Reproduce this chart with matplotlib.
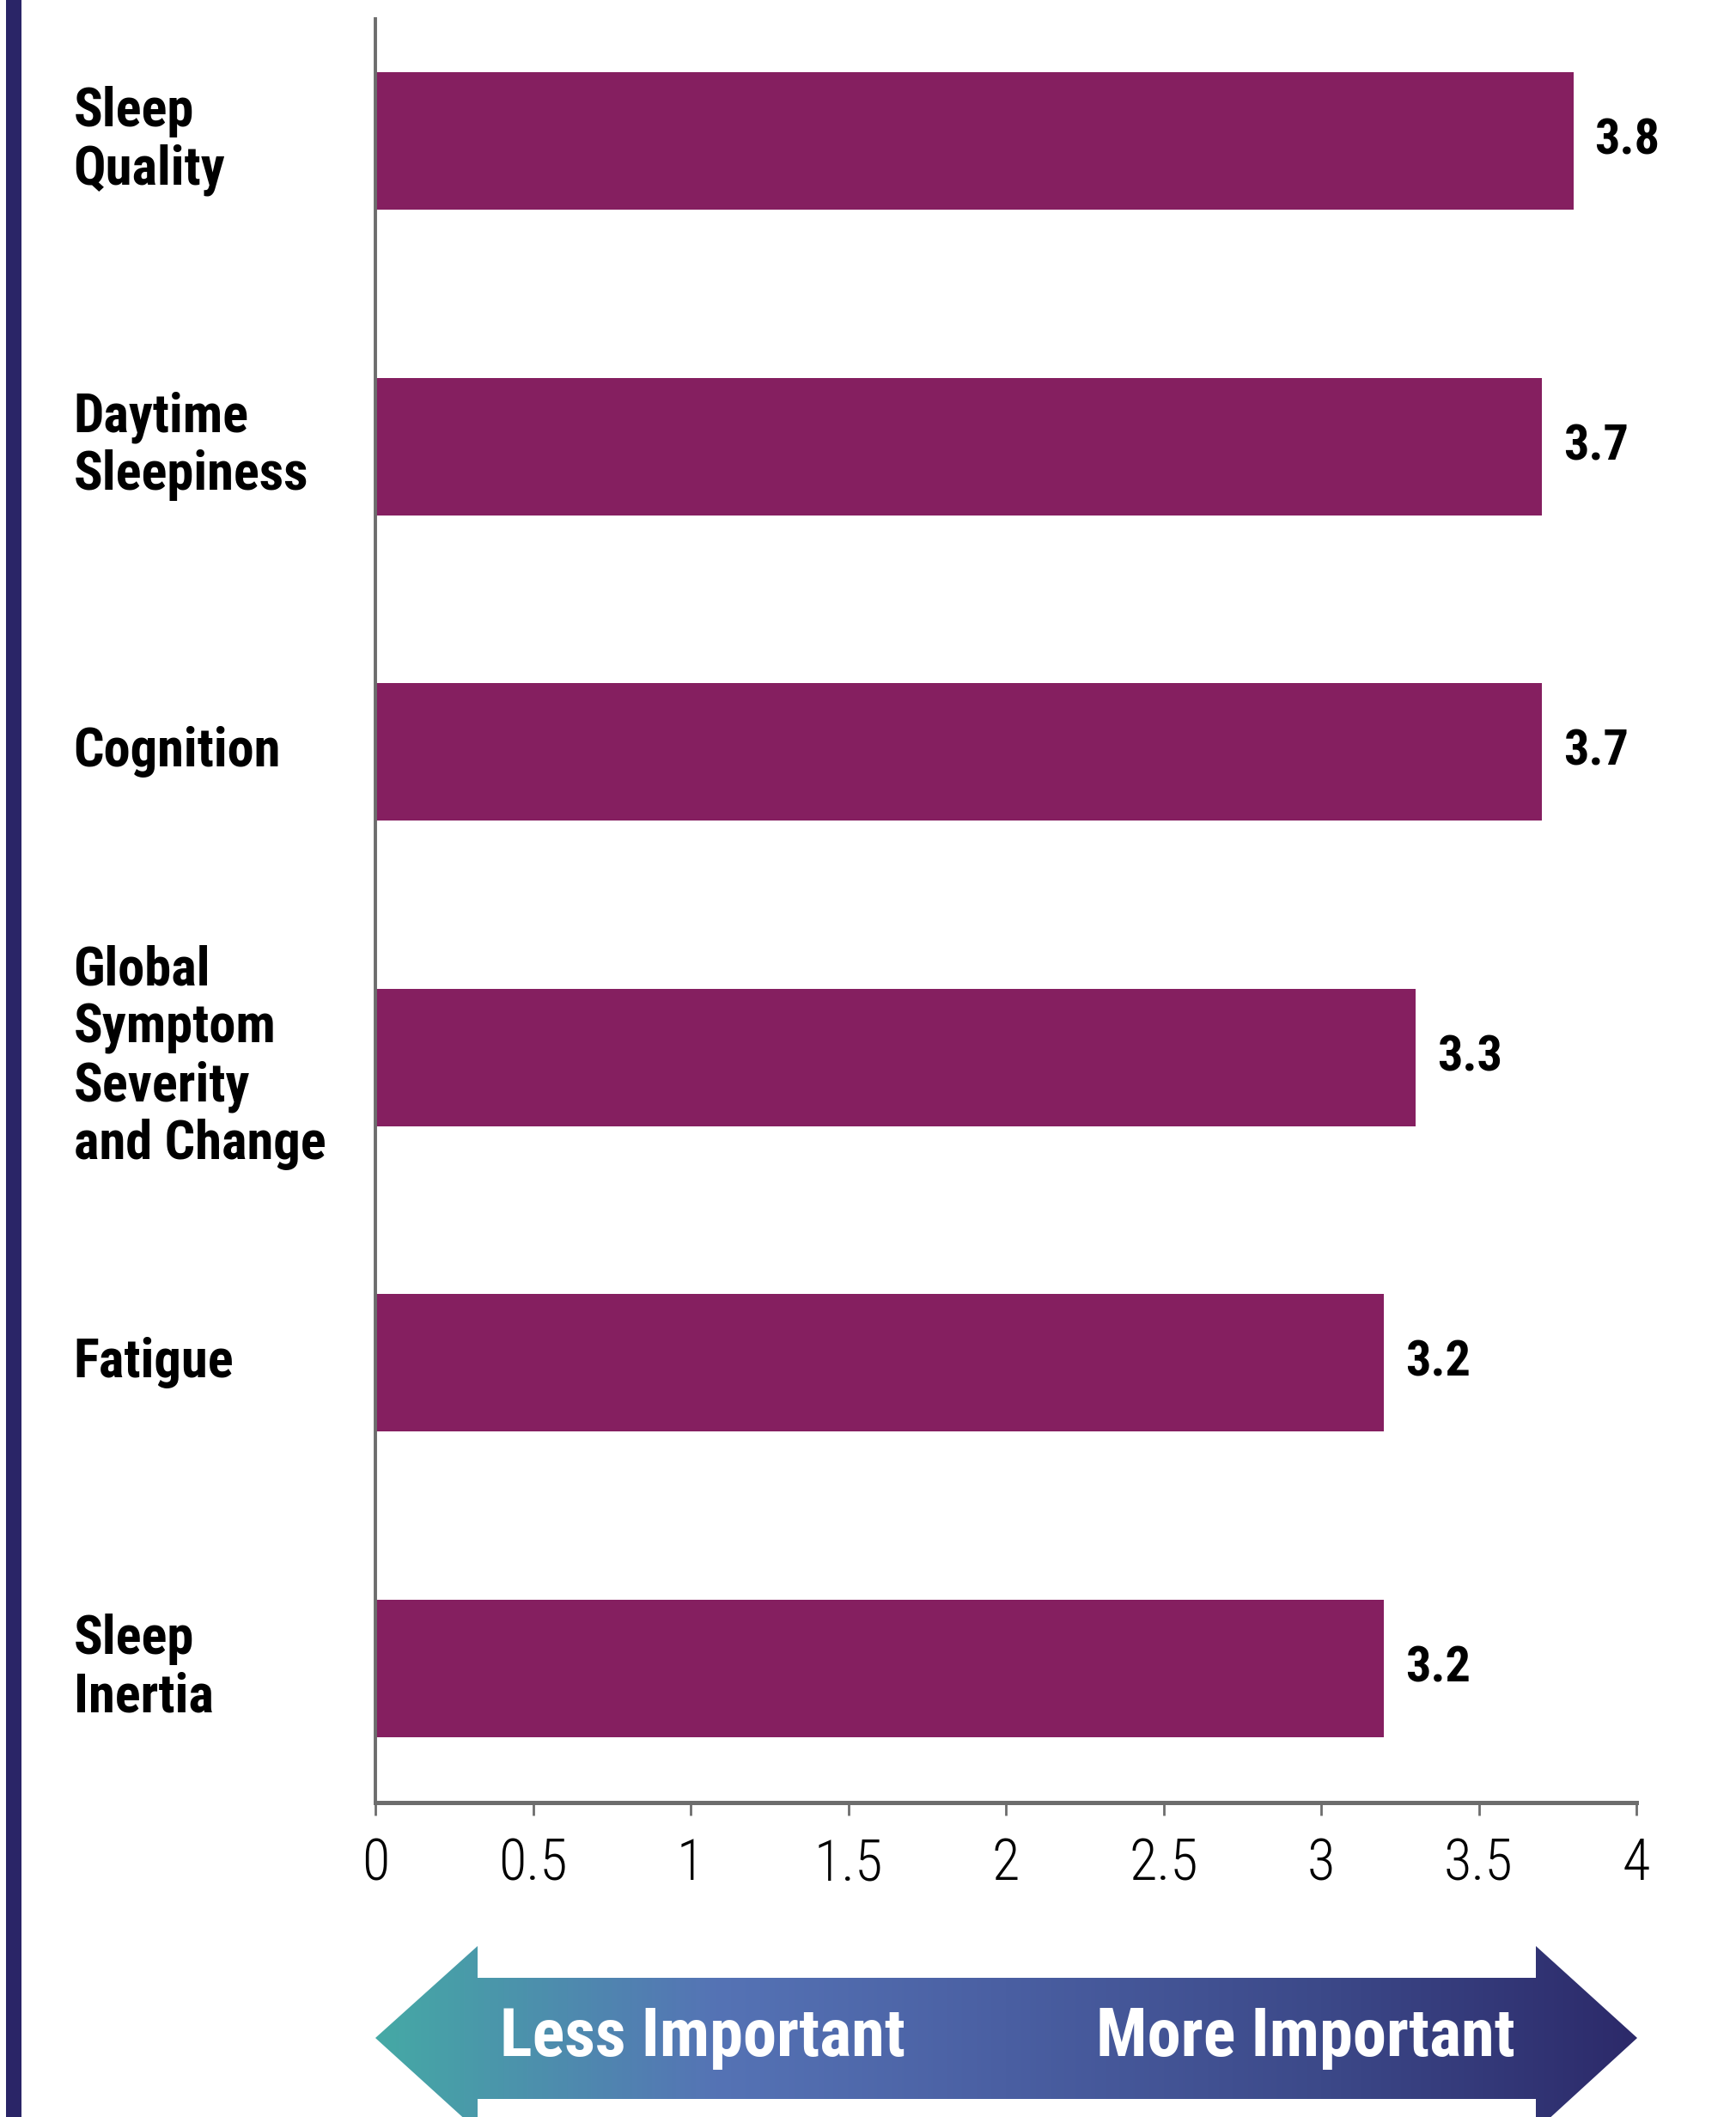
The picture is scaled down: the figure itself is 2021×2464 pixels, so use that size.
import matplotlib
matplotlib.use("Agg")
import matplotlib.pyplot as plt
import numpy as np
from matplotlib.patches import Polygon, Rectangle
from matplotlib.colors import LinearSegmentedColormap

categories = ["Sleep\nQuality", "Daytime\nSleepiness", "Cognition",
              "Global\nSymptom\nSeverity\nand Change", "Fatigue", "Sleep\nInertia"]
scores = [3.8, 3.7, 3.7, 3.3, 3.2, 3.2]
xticks = [0, 0.5, 1, 1.5, 2, 2.5, 3, 3.5, 4]
xtick_labels = ["0", "0.5", "1", "1.5", "2", "2.5", "3", "3.5", "4"]

plt.rcParams['font.family'] = ['Roboto Condensed', 'Archivo Narrow', 'DejaVu Sans']

W, H = 2021, 2464
fig = plt.figure(figsize=(W / 100, H / 100), dpi=100)

# background layer in pixel coords (left rule + gradient arrow)
bg = fig.add_axes([0, 0, 1, 1])
bg.set_xlim(0, W)
bg.set_ylim(H, 0)
bg.axis("off")
bg.add_patch(Rectangle((7, 0), 18, H, color="#2a2567", lw=0))

arrow = [(437, 2372), (556, 2265), (556, 2302), (1788, 2302), (1788, 2265),
         (1906, 2372), (1788, 2480), (1788, 2443), (556, 2443), (556, 2480)]
poly = Polygon(arrow, closed=True, facecolor="none", edgecolor="none")
bg.add_patch(poly)
cmap = LinearSegmentedColormap.from_list(
    "imp", [(0, "#45a9a5"), (0.27, "#5573b5"), (0.5, "#4a5fa2"),
            (0.75, "#3c4989"), (1, "#2c2a6a")])
grad = np.linspace(0, 1, 512).reshape(1, -1)
im = bg.imshow(grad, cmap=cmap, extent=(437, 1906, 2480, 2265), aspect="auto")
im.set_clip_path(poly)
bg.text(818, 2372, "Less Important", color="white", fontsize=56.5,
        fontweight="bold", ha="center", va="center")
bg.text(1520, 2372, "More Important", color="white", fontsize=56.5,
        fontweight="bold", ha="center", va="center")

# main bar chart
ax = fig.add_axes([437 / W, 1 - 2098 / H, (1905 - 437) / W, (2098 - 22) / H])
ax.set_facecolor("none")
y = np.arange(len(categories))
bars = ax.barh(y, scores, height=0.45, color="#851f60")
for b, v in zip(bars, scores):
    ax.text(b.get_width() + 0.068, b.get_y() + b.get_height() / 2, f"{v:.1f}",
            va="center", ha="left", fontsize=42, fontweight="bold")

ax.set_xlim(0, 4)
ax.set_ylim(5.44, -0.40)
ax.set_xticks(xticks)
ax.set_xticklabels(xtick_labels, fontsize=48, fontweight="light")
ax.set_yticks(y)
ax.set_yticklabels(categories, fontsize=45, fontweight="bold", ha="left",
                   va="center", linespacing=1.15)
ax.tick_params(axis="y", length=0, pad=253)
ax.tick_params(axis="x", length=11, width=2, color="#6d6d6d", pad=18)
for s in ["top", "right"]:
    ax.spines[s].set_visible(False)
ax.spines["left"].set_color("#6d6d6d")
ax.spines["left"].set_linewidth(2.8)
ax.spines["bottom"].set_color("#6d6d6d")
ax.spines["bottom"].set_linewidth(3.6)

fig.savefig("out.png", dpi=100)
